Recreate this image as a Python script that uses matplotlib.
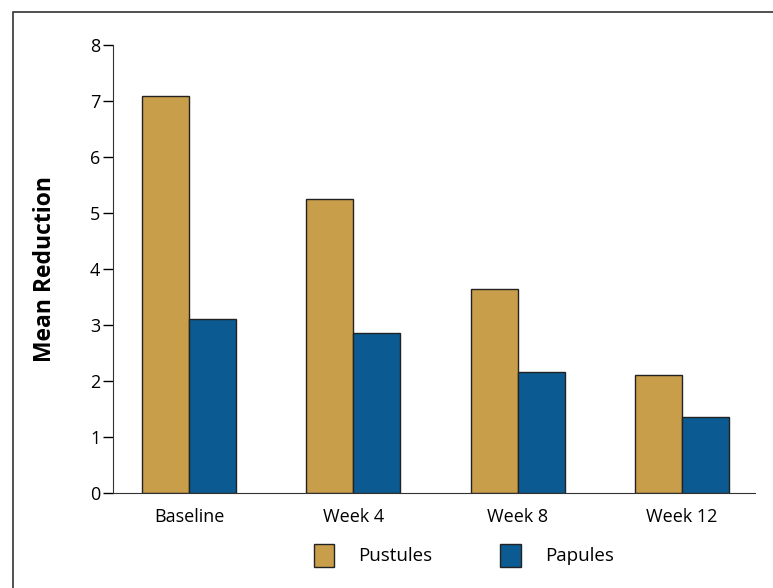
import matplotlib
matplotlib.use("Agg")
from matplotlib import pyplot as plt
from matplotlib.patches import Rectangle
import numpy as np

# data
weeks = ["Baseline", "Week 4", "Week 8", "Week 12"]
pustules = [7.1, 5.25, 3.65, 2.1]
papules = [3.1, 2.85, 2.15, 1.35]

gold = "#C99E4A"
blue = "#0B5A92"

plt.rcParams['font.family'] = ['Open Sans', 'DejaVu Sans']

fig = plt.figure(figsize=(7.73, 5.88), dpi=100)
ax = fig.add_axes([0.146, 0.162, 0.831, 0.761])

x = np.arange(len(weeks))
w = 0.285
ax.bar(x - w / 2, pustules, w, color=gold, edgecolor="#222222", linewidth=1.0, label="Pustules")
ax.bar(x + w / 2, papules, w, color=blue, edgecolor="#222222", linewidth=1.0, label="Papules")

ax.set_xlim(-0.463, 3.445)
ax.set_ylim(0, 8)
ax.set_yticks(range(9))
ax.set_xticks(x)
ax.set_xticklabels(weeks)
ax.tick_params(axis="x", length=0, pad=11, labelsize=13)
ax.tick_params(axis="y", length=7, width=1, labelsize=13, pad=2)
ax.spines["top"].set_visible(False)
ax.spines["right"].set_visible(False)
ax.spines["left"].set_color("#333333")
ax.spines["bottom"].set_color("#333333")
ax.set_ylabel("Mean Reduction", fontsize=16.5, fontweight="bold", labelpad=24)

leg = fig.legend(loc="center", bbox_to_anchor=(0.6, 0.056), ncol=2, frameon=False,
                 fontsize=13.5, handlelength=1.1, handleheight=1.5, columnspacing=3.6,
                 handletextpad=1.3)

# outer frame of the figure panel
fig.patches.append(Rectangle((0.017, -0.01), 1.2, 0.99, transform=fig.transFigure,
                             fill=False, edgecolor="#333333", linewidth=1.2))

fig.savefig("out.png", dpi=100)
